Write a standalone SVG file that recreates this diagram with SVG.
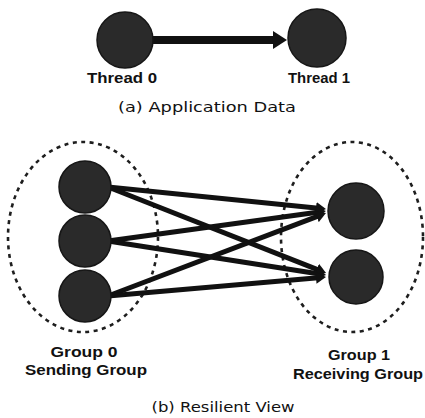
<svg xmlns="http://www.w3.org/2000/svg" width="425" height="418" viewBox="0 0 425 418">
<style>
.node{fill:#2a2a2a;stroke:#161616;stroke-width:1.5}
.edge{stroke:#111;stroke-width:5;fill:none;stroke-linecap:butt}
.grp{fill:none;stroke:#1e1e1e;stroke-width:2.6;stroke-dasharray:4 4.5}
.lbl{font-family:"Liberation Sans",Arial,sans-serif;font-weight:bold;font-size:14px;fill:#111;text-anchor:middle}
.cap{font-family:"DejaVu Sans","Liberation Sans",sans-serif;font-size:14px;fill:#111;text-anchor:middle}
</style>
<defs>
<marker id="ahTop" viewBox="0 0 14 18" refX="0" refY="9" markerWidth="14" markerHeight="18" orient="auto" markerUnits="userSpaceOnUse">
<path d="M0,0 L14,9 L0,18 Z" fill="#111"/>
</marker>
<marker id="ah" viewBox="0 0 10 12" refX="5" refY="6" markerWidth="10" markerHeight="12" orient="auto" markerUnits="userSpaceOnUse">
<path d="M0,0 L10,6 L0,12 Z" fill="#111"/>
</marker>
</defs>
<g id="groups">
<ellipse id="group0" class="grp" cx="83" cy="237" rx="75" ry="95"/>
<ellipse id="group1" class="grp" cx="352" cy="237" rx="71" ry="95"/>
</g>
<g id="connectors">
<line x1="150" y1="40" x2="273" y2="40" stroke="#111" stroke-width="8" marker-end="url(#ahTop)"/>
<line class="edge" x1="108" y1="187" x2="321.0" y2="208.5" marker-end="url(#ah)"/>
<line class="edge" x1="108" y1="187" x2="321.4" y2="271.1" marker-end="url(#ah)"/>
<line class="edge" x1="108" y1="241" x2="321.0" y2="211.7" marker-end="url(#ah)"/>
<line class="edge" x1="108" y1="241" x2="321.1" y2="274.2" marker-end="url(#ah)"/>
<line class="edge" x1="108" y1="296" x2="321.3" y2="214.8" marker-end="url(#ah)"/>
<line class="edge" x1="108" y1="296" x2="321.0" y2="277.4" marker-end="url(#ah)"/>
</g>
<g id="thread0"><circle class="node" cx="125" cy="40" r="28"/><text class="lbl" x="122" y="83" textLength="70" lengthAdjust="spacingAndGlyphs">Thread 0</text></g>
<g id="thread1"><circle class="node" cx="317" cy="38" r="29"/><text class="lbl" x="319" y="83" textLength="62" lengthAdjust="spacingAndGlyphs">Thread 1</text></g>
<text class="cap" x="207" y="112" textLength="178" lengthAdjust="spacingAndGlyphs">(a) Application Data</text>
<g id="s0"><circle class="node" cx="85" cy="187" r="26"/></g>
<g id="s1"><circle class="node" cx="85" cy="241" r="26"/></g>
<g id="s2"><circle class="node" cx="85" cy="296" r="26"/></g>
<g id="r0"><circle class="node" cx="356" cy="211" r="28"/></g>
<g id="r1"><circle class="node" cx="356" cy="277" r="27"/></g>
<g id="label0"><text class="lbl" x="84" y="357" textLength="67" lengthAdjust="spacingAndGlyphs">Group 0</text><text class="lbl" x="86" y="375" textLength="122" lengthAdjust="spacingAndGlyphs">Sending Group</text></g>
<g id="label1"><text class="lbl" x="359" y="360" textLength="62" lengthAdjust="spacingAndGlyphs">Group 1</text><text class="lbl" x="358" y="379" textLength="130" lengthAdjust="spacingAndGlyphs">Receiving Group</text></g>
<text class="cap" x="223" y="412" textLength="143" lengthAdjust="spacingAndGlyphs">(b) Resilient View</text>
</svg>
